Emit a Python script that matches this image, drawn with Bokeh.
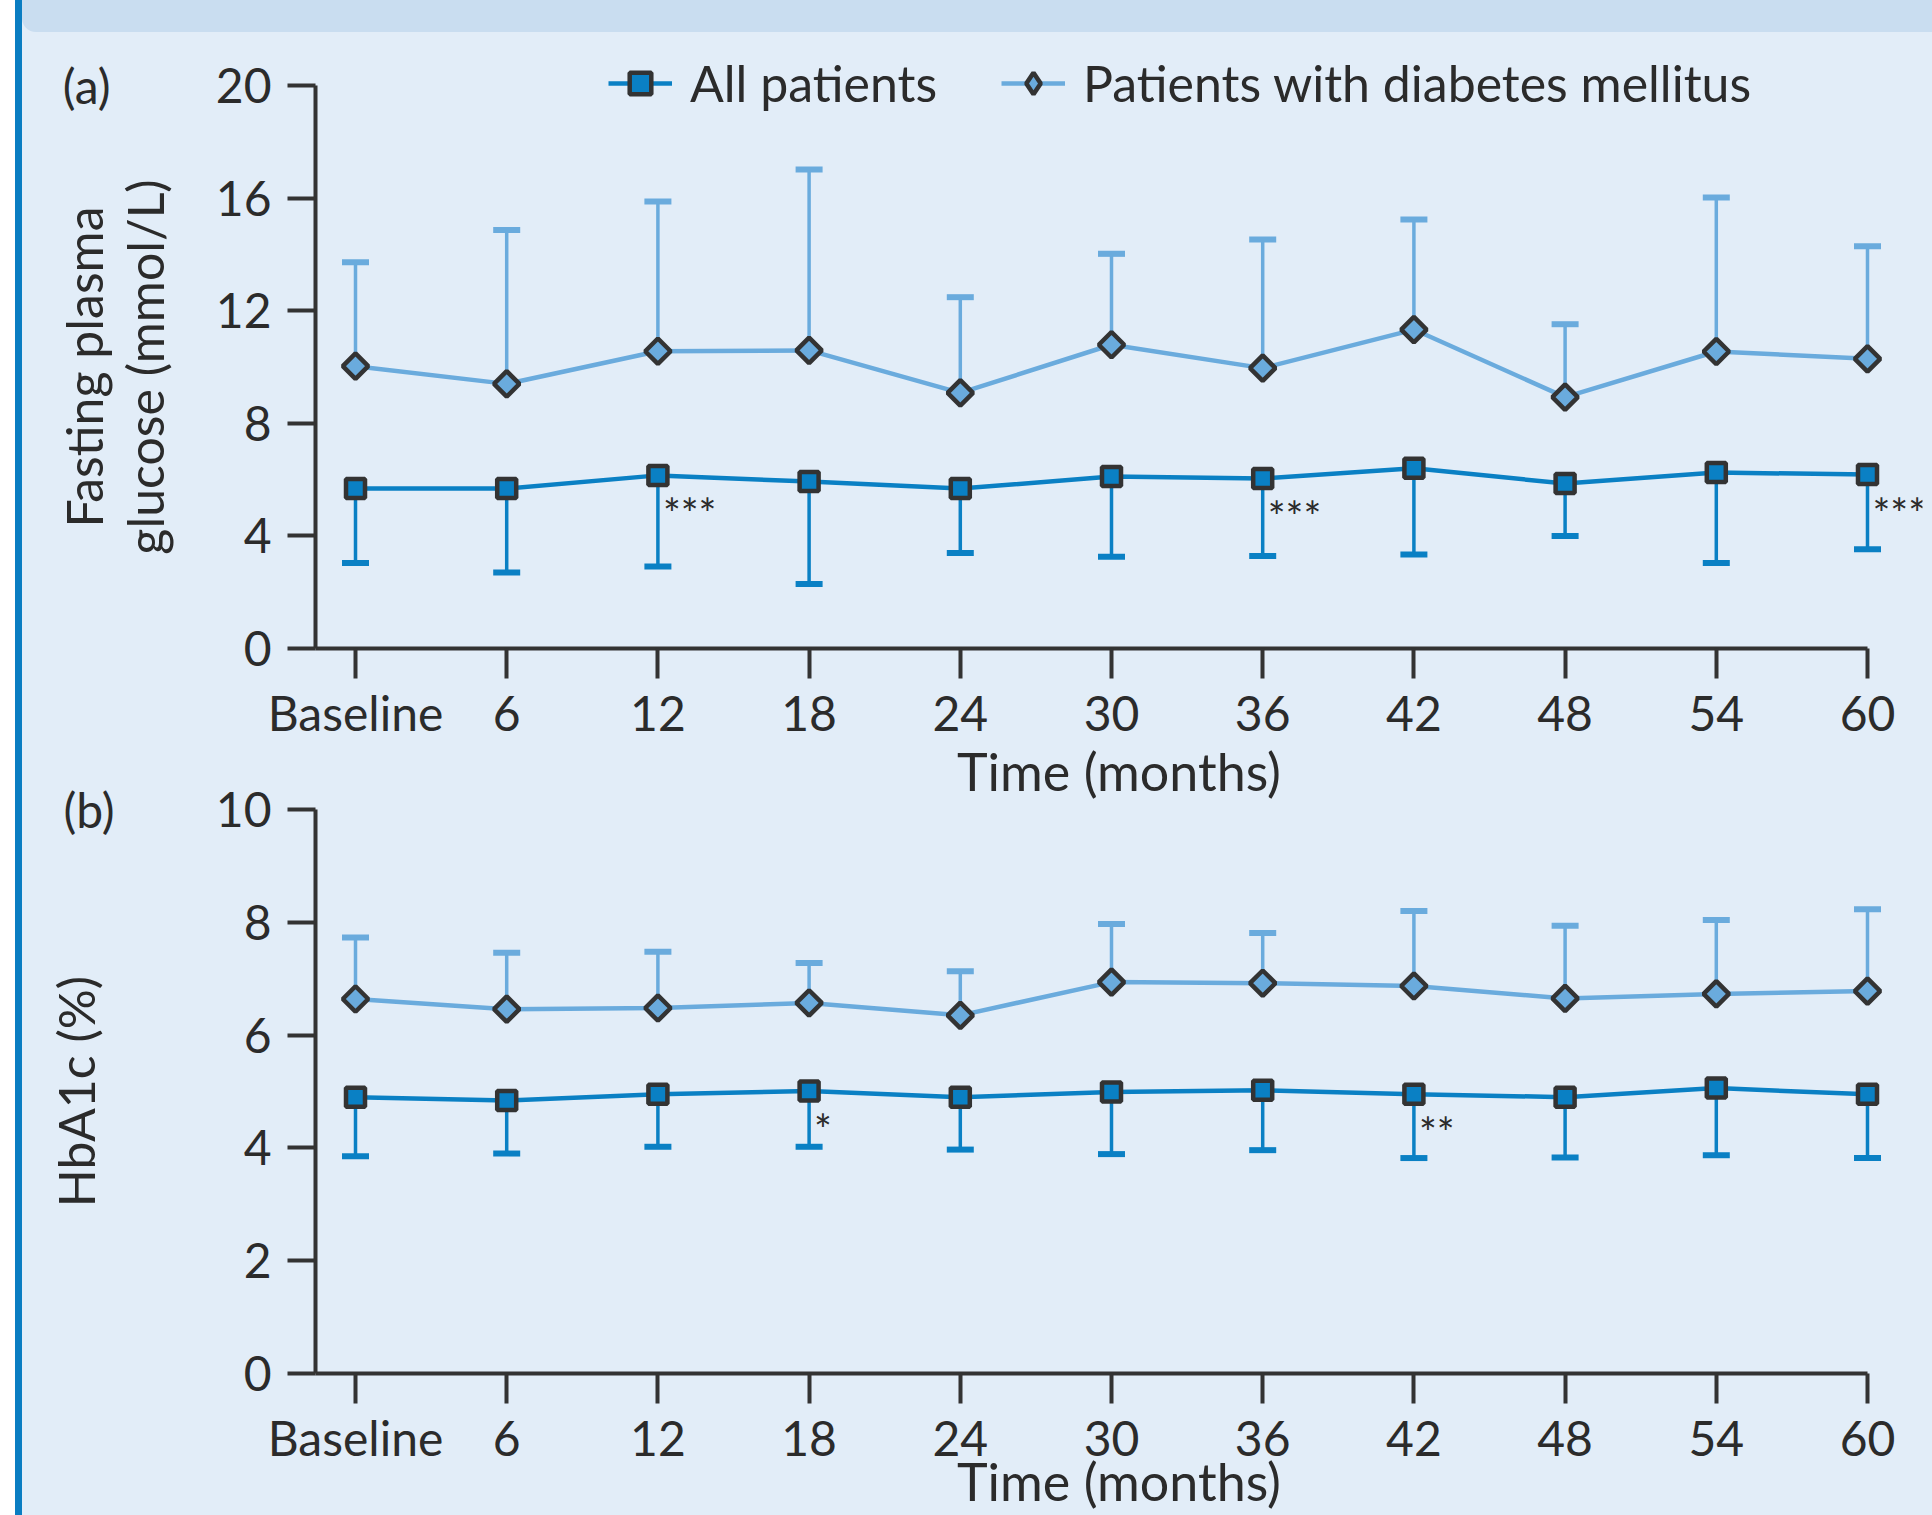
import numpy as np
from bokeh.plotting import figure
from bokeh.models import (ColumnDataSource, Range1d, FixedTicker, Whisker, TeeHead,
                          Legend, LegendItem, LabelSet, Div, LinearAxis)
from bokeh.layouts import row, column
from bokeh.embed import file_html
from bokeh.resources import INLINE
from bokeh.core.properties import value

# ---------------- data ----------------
months = [0, 6, 12, 18, 24, 30, 36, 42, 48, 54, 60]
month_labels = ["Baseline", "6", "12", "18", "24", "30", "36", "42", "48", "54", "60"]

# (a) Fasting plasma glucose (mmol/L): mean and SD (one-sided bars)
fpg_all_mean = [5.68, 5.68, 6.15, 5.93, 5.68, 6.11, 6.04, 6.40, 5.86, 6.25, 6.18]
fpg_all_sd   = [2.64, 2.98, 3.24, 3.64, 2.29, 2.85, 2.75, 3.06, 1.86, 3.21, 2.65]
fpg_dm_mean  = [10.03, 9.40, 10.56, 10.59, 9.08, 10.79, 9.96, 11.33, 8.93, 10.55, 10.29]
fpg_dm_sd    = [3.69, 5.47, 5.32, 6.43, 3.40, 3.23, 4.57, 3.91, 2.59, 5.47, 4.00]
fpg_yticks = [0, 4, 8, 12, 16, 20]
fpg_sig_months = [12, 36, 60]
fpg_sig_text = ["***", "***", "***"]
fpg_ylabel_lines = ["glucose (mmol/L)", "Fasting plasma"]   # inner line first

# (b) HbA1c (%)
hba_all_mean = [4.90, 4.84, 4.95, 5.01, 4.90, 4.99, 5.02, 4.95, 4.90, 5.06, 4.95]
hba_all_sd   = [1.05, 0.94, 0.93, 0.99, 0.93, 1.10, 1.06, 1.13, 1.07, 1.19, 1.13]
hba_dm_mean  = [6.64, 6.46, 6.48, 6.57, 6.35, 6.94, 6.92, 6.87, 6.65, 6.73, 6.78]
hba_dm_sd    = [1.09, 1.00, 1.00, 0.71, 0.78, 1.03, 0.89, 1.33, 1.29, 1.31, 1.45]
hba_yticks = [0, 2, 4, 6, 8, 10]
hba_sig_months = [18, 42]
hba_sig_text = ["*", "**"]
hba_ylabel_lines = ["HbA1c (%)"]

series_names = ["All patients", "Patients with diabetes mellitus"]

# ---------------- style ----------------
BG = "#e2edf8"
BAND = "#c9ddf0"
BAR = "#0a7dc2"
C_ALL = "#0a80c4"
C_DM = "#6aabdd"
EDGE = "#333333"
TXT = "#2b2b2b"
FONT = "Lato"

PX_PER_MONTH = 25.2
FW = 1607
X0 = -40 / PX_PER_MONTH
X1 = X0 + FW / PX_PER_MONTH


def style_axis(ax):
    ax.axis_line_color = EDGE
    ax.axis_line_width = 4
    ax.major_tick_line_color = EDGE
    ax.major_tick_line_width = 4
    ax.major_tick_in = 0
    ax.minor_tick_line_color = None
    ax.major_label_text_font = FONT
    ax.major_label_text_font_size = "48px"
    ax.major_label_text_color = TXT
    ax.axis_label_text_font = FONT
    ax.axis_label_text_font_size = "52px"
    ax.axis_label_text_font_style = "normal"
    ax.axis_label_text_color = TXT


def text_axis(label, at, standoff, vertical, size):
    """A line-less left axis whose single tick label carries a text."""
    ax = LinearAxis(ticker=FixedTicker(ticks=[at]), major_label_overrides={at: label})
    style_axis(ax)
    ax.axis_line_color = None
    ax.major_tick_line_color = None
    ax.major_tick_out = 0
    ax.major_label_standoff = standoff
    ax.major_label_text_font_size = size
    if vertical:
        ax.major_label_orientation = "vertical"
    return ax


def make_panel(ymax, yend, frame_h, yticks, all_mean, all_sd, dm_mean, dm_sd, sig_m, sig_t,
               border_top, border_bottom, title_standoff, ylabel_lines, ylabel_standoffs,
               panel_tag, tag_standoff, legend=False):
    p = figure(frame_width=FW, frame_height=frame_h,
               x_range=Range1d(X0, X1), y_range=Range1d(0, yend),
               output_backend="svg", toolbar_location=None,
               min_border_left=293, min_border_right=1910 - 293 - FW,
               min_border_top=border_top, min_border_bottom=border_bottom,
               background_fill_color=BG, border_fill_color=None)
    p.outline_line_color = None
    p.xgrid.visible = False
    p.ygrid.visible = False

    all_src = ColumnDataSource(dict(x=months, m=all_mean,
                                    lo=[a - s for a, s in zip(all_mean, all_sd)]))
    dm_src = ColumnDataSource(dict(x=months, m=dm_mean,
                                   hi=[a + s for a, s in zip(dm_mean, dm_sd)]))

    p.add_layout(Whisker(source=dm_src, base="x", lower="m", upper="hi",
                         line_color=C_DM, line_width=3.5, lower_head=None,
                         upper_head=TeeHead(size=27, line_color=C_DM, line_width=6)))
    p.add_layout(Whisker(source=all_src, base="x", lower="lo", upper="m",
                         line_color=C_ALL, line_width=3.5, upper_head=None,
                         lower_head=TeeHead(size=27, line_color=C_ALL, line_width=6)))

    l_dm = p.line("x", "m", source=dm_src, line_color=C_DM, line_width=4.5)
    p.scatter("x", "m", source=dm_src, marker="square", angle=np.pi / 4,
              size=18, fill_color=C_DM, line_color=EDGE, line_width=4.5)
    l_all = p.line("x", "m", source=all_src, line_color=C_ALL, line_width=4.5)
    s_all = p.scatter("x", "m", source=all_src, marker="square",
                      size=19, fill_color=C_ALL, line_color=EDGE, line_width=4.5)

    sig_src = ColumnDataSource(dict(x=sig_m, y=[all_mean[months.index(m)] for m in sig_m],
                                    t=sig_t))
    p.add_layout(LabelSet(x="x", y="y", text="t", source=sig_src, x_offset=5, y_offset=-54,
                          text_font=value(FONT), text_font_size="42px", text_color=TXT,
                          text_align="left", text_baseline="alphabetic"))

    # axes
    xa = p.xaxis[0]
    style_axis(xa)
    xa.ticker = FixedTicker(ticks=months)
    xa.major_label_overrides = {m: lab for m, lab in zip(months, month_labels)}
    xa.bounds = (X0, months[-1])
    xa.axis_label = "Time (months)"
    xa.axis_label_standoff = title_standoff
    xa.major_label_standoff = 5
    xa.major_tick_out = 30

    ya = p.yaxis[0]
    style_axis(ya)
    ya.ticker = FixedTicker(ticks=yticks)
    ya.bounds = (0, ymax)
    ya.major_label_standoff = 16
    ya.major_tick_out = 28

    # y-axis title lines, centred on the middle of the axis (outer side panels)
    for line, st in zip(ylabel_lines, ylabel_standoffs):
        p.add_layout(text_axis(line, ymax / 2, st, True, "50px"), "left")
    # panel tag "(a)" / "(b)"
    p.add_layout(text_axis(panel_tag, ymax, tag_standoff, False, "48px"), "left")

    if legend:
        s_dm_leg = p.scatter("x", "m", source=dm_src, marker="diamond", size=0,
                             fill_color=C_DM, line_color=EDGE, line_width=4.5)
        lg = Legend(items=[LegendItem(label=series_names[0], renderers=[l_all, s_all]),
                           LegendItem(label=series_names[1], renderers=[l_dm, s_dm_leg])],
                    orientation="horizontal", location=(293, 535),
                    glyph_width=64, glyph_height=54, label_standoff=18, spacing=64,
                    padding=0, margin=0, border_line_color=None, background_fill_alpha=0,
                    label_text_font=FONT, label_text_font_size="50px", label_text_color=TXT)
        p.add_layout(lg)
    return p


FPG_PX = 28.15
pa = make_panel(fpg_yticks[-1], 608 / FPG_PX, 608, fpg_yticks,
                fpg_all_mean, fpg_all_sd, fpg_dm_mean, fpg_dm_sd,
                fpg_sig_months, fpg_sig_text, border_top=8, border_bottom=160,
                title_standoff=-4, ylabel_lines=fpg_ylabel_lines, ylabel_standoffs=[38, -2],
                panel_tag="(a)", tag_standoff=-60, legend=True)

pb = make_panel(hba_yticks[-1], hba_yticks[-1], 564, hba_yticks,
                hba_all_mean, hba_all_sd, hba_dm_mean, hba_dm_sd,
                hba_sig_months, hba_sig_text, border_top=41, border_bottom=142,
                title_standoff=-19, ylabel_lines=hba_ylabel_lines, ylabel_standoffs=[107],
                panel_tag="(b)", tag_standoff=-72)
pb.margin = (-40, 0, 0, 0)

TOTAL_H = 1515
spacer = Div(width=15, height=TOTAL_H, margin=0)
bar = Div(width=7, height=TOTAL_H, margin=0, styles={"background-color": BAR})
band = Div(width=1910, height=32, margin=0,
           styles={"background-color": BAND, "border-bottom-left-radius": "14px"})
col = column(band, pa, pb, spacing=0, styles={"background-color": BG})
layout = row(spacer, bar, col, spacing=0)

open("out.html", "w").write(file_html(layout, INLINE))
